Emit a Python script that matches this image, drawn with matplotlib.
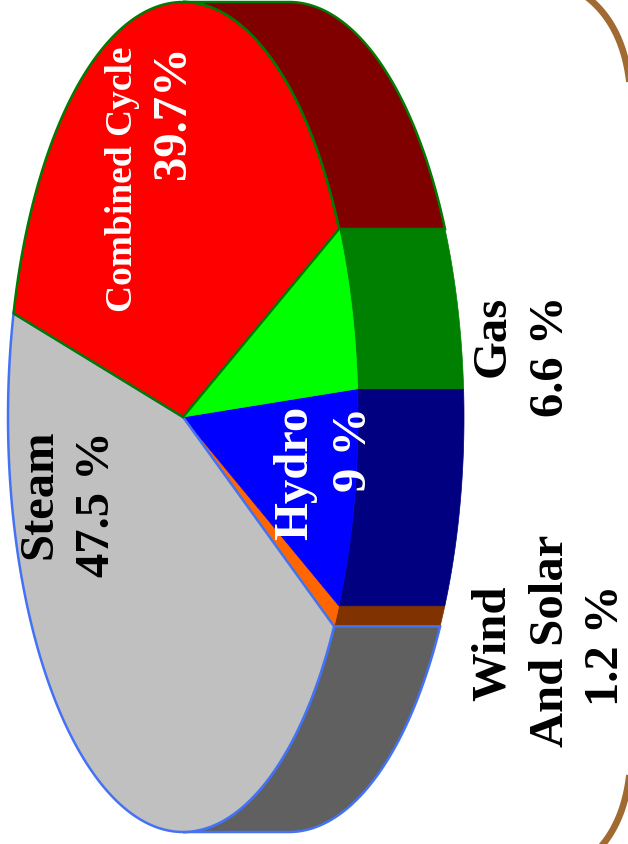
import numpy as np
import matplotlib
matplotlib.use('Agg')
import matplotlib.pyplot as plt

# slice shares as drawn (the printed labels add up to 104)
slice_names = ['Wind And Solar', 'Hydro', 'Gas', 'Combined Cycle', 'Steam']
slice_shares = [0.9, 8.6, 6.4, 38.5, 45.6]
top_colors = ['#ff6600', '#0000ff', '#00ff00', '#ff0000', '#c0c0c0']
side_colors = ['#803300', '#000080', '#008000', '#800000', '#606060']
edge_colors = ['#ff6600', '#0000ff', '#00ff00', '#007a00', '#4472f4']
edge_widths = [0.5, 0.5, 0.5, 1.8, 1.8]

# text lines: label, x, y, size, colour
text_lines = [
    ('Steam', 39, 494, 35, 'black'),
    ('47.5 %', 97, 504, 35, 'black'),
    ('Combined Cycle', 122, 179, 27, 'white'),
    ('39.7%', 173, 112, 35, 'white'),
    ('Hydro', 295, 473, 35, 'white'),
    ('9 %', 354, 449, 35, 'white'),
    ('Gas', 493, 336, 35, 'black'),
    ('6.6 %', 551, 356, 35, 'black'),
    ('Wind', 493, 643, 35, 'black'),
    ('And Solar', 551, 641, 35, 'black'),
    ('1.2 %', 606, 645, 35, 'black'),
]

cx, cy = 183, 417
rx, ry = 175, 415
depth = 106
start_angle = -30.3

fig = plt.figure(figsize=(6.28, 8.44), dpi=100)
ax = fig.add_axes([0, 0, 1, 1])
ax.set_xlim(0, 628)
ax.set_ylim(844, 0)
ax.axis('off')

# brown frame, only its right side shows in the picture
frame_x, frame_top, frame_bottom, frame_round = 631, -30, 887, 140
s = np.linspace(0, 1, 60)
ax.plot(np.r_[(frame_x - frame_round * s**2)[::-1], frame_x - frame_round * s**2],
        np.r_[(frame_top + frame_round * (1 - s)**2)[::-1], frame_bottom - frame_round * (1 - s)**2],
        color='#a06a30', linewidth=4.8, zorder=1)


def rim(a0, a1):
    t = np.radians(np.linspace(a0, a1, 200))
    return cx + rx * np.cos(t), cy - ry * np.sin(t)


angles = start_angle + np.cumsum([0] + slice_shares) / sum(slice_shares) * 360

# the sides first, only the part of each rim that faces right
for i in range(len(slice_shares)):
    a0, a1 = angles[i], angles[i + 1]
    for lo, hi in [(a0, min(a1, 90)), (max(a0, 270), a1)]:
        if hi <= lo:
            continue
        x, y = rim(lo, hi)
        ax.fill(np.r_[x, x[::-1] + depth], np.r_[y, y[::-1]], facecolor=side_colors[i],
                edgecolor=edge_colors[i] if i > 2 else side_colors[i],
                linewidth=edge_widths[i], zorder=2)

# then the top, steam and combined cycle last so their outlines stay on top
for i in range(len(slice_shares)):
    x, y = rim(angles[i], angles[i + 1])
    ax.fill(np.r_[cx, x], np.r_[cy, y], facecolor=top_colors[i], edgecolor=edge_colors[i],
            linewidth=edge_widths[i], zorder=3 + (i == 3) * 2 + (i == 4))

for label, x, y, size, color in text_lines:
    ax.text(x, y, label, rotation=90, ha='center', va='center', fontsize=size, color=color,
            family='Liberation Serif', fontweight='bold', zorder=8)

fig.savefig('out.png', dpi=100)
